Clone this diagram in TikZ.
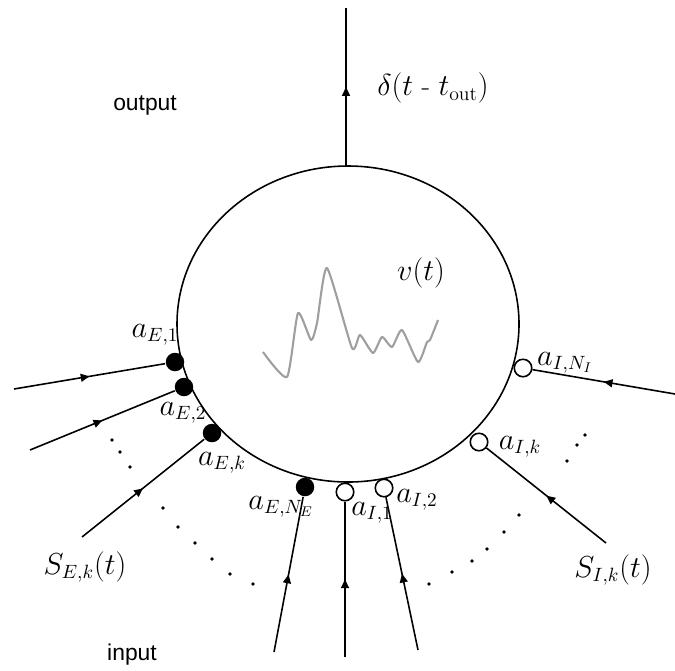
\documentclass[tikz,border=0pt]{standalone}
\usepackage{fontspec}
\setsansfont{Liberation Sans}
\usetikzlibrary{decorations.markings,arrows.meta}

\tikzset{
  exc/.style={circle, fill=black, inner sep=0pt, minimum size=0.37cm},
  inh/.style={circle, draw, fill=white, inner sep=0pt, minimum size=0.35cm},
  midarrow/.style={postaction={decorate},
    decoration={markings, mark=at position 0.5 with {\arrow{Triangle[length=5pt,width=4.5pt]}}}},
  lbl/.style={font=\fontsize{16}{19}\selectfont},
  word/.style={font=\fontsize{13}{15}\selectfont\sffamily},
}

\begin{document}
\begin{tikzpicture}[x=0.02cm, y=-0.02cm, line width=0.9pt]
\useasboundingbox (0,0) rectangle (675,670);

% cell body
\draw (348,324) ellipse [x radius=171, y radius=158];
\coordinate (top) at (346,166);

% membrane potential
\draw[gray!75, line width=1.2pt, line join=round] plot[smooth, tension=0.35] coordinates {
  (263,352) (287,377) (298,313) (311,340) (317,323) (327,268) (352,348) (360,335)
  (373,353) (382,337) (392,347) (402,330) (418,362) (427,342) (430,340) (438,320)};
\node[lbl] (v) at (421,273) {$v(t)$};

% output
\coordinate (out) at (346,8);
\draw[midarrow] (top) -- (out);
\node[lbl] (delta) at (433,88) {$\delta(t$ - $t_{\mathrm{out}})$};
\node[word] (output) at (145,105) {output};
\node[word] (input) at (132,655) {input};

% excitatory synapses
\foreach \n/\px/\py/\sx/\sy in {E1/175/362/14/389, E2/184/387/30/450,
                                Ek/212/433/82/537, ENE/305/487/274/652} {
  \node[exc] (a\n) at (\px,\py) {};
  \coordinate (s\n) at (\sx,\sy);
  \draw[midarrow] (s\n) -- (a\n);
}

% inhibitory synapses
\foreach \n/\px/\py/\sx/\sy in {I1/345/492/345/657, I2/384/488/418/650,
                                Ik/479/442/606/543, INI/523/368/675/394} {
  \node[inh] (a\n) at (\px,\py) {};
  \coordinate (s\n) at (\sx,\sy);
  \draw[midarrow] (s\n) -- (a\n);
}

% dots
\foreach \x/\y in {112/440, 120/452, 130/467, 163/508, 178/527, 195/543, 212/559, 230/574, 253/584,
                   585/435, 577/445, 567/461, 519/515, 504/532, 487/549, 472/561, 452/572, 429/584}
  \fill (\x,\y) circle [radius=1.8];

% synapse labels
\node[lbl] (lE1) at (155,335) {$a_{E,1}$};
\node[lbl] (lE2) at (183,413) {$a_{E,2}$};
\node[lbl] (lEk) at (222,463) {$a_{E,k}$};
\node[lbl] (lENE) at (281,507) {$a_{E,N_E}$};
\node[lbl] (lSE) at (85,567) {$S_{E,k}(t)$};
\node[lbl] (lINI) at (565,363) {$a_{I,N_I}$};
\node[lbl] (lIk) at (520,447) {$a_{I,k}$};
\node[lbl] (lI1) at (372,513) {$a_{I,1}$};
\node[lbl] (lI2) at (417,500) {$a_{I,2}$};
\node[lbl] (lSI) at (613,570) {$S_{I,k}(t)$};

\end{tikzpicture}
\end{document}
